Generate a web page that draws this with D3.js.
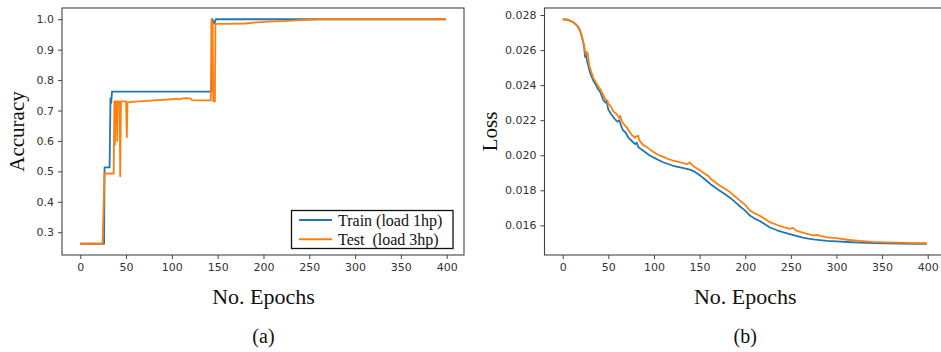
<!DOCTYPE html>
<html>
<head>
<meta charset="utf-8">
<script src="https://cdn.jsdelivr.net/npm/d3@7/dist/d3.min.js"></script>
<style>
  html, body { margin: 0; padding: 0; background: #fff; }
  svg { display: block; }
  .tick text { font-family: "DejaVu Sans", sans-serif; font-size: 11px; fill: #333; }
  .serif { font-family: "Liberation Serif", "Times New Roman", serif; fill: #111; }
</style>
</head>
<body>
<svg id="chart" width="941" height="352"></svg>
<script>
// Accuracy per epoch: [epoch, value] breakpoints (step-like curves)
const accTrain = [
  [0,0.262],[26,0.262],[26.5,0.513],[32,0.513],[33,0.74],[33.8,0.725],[34.6,0.762],
  [143.5,0.762],[144.2,1.0],[146.5,0.986],[148,1.0],[399,1.0]
];
const accTest = [
  [0,0.262],[24.3,0.262],[26.5,0.493],[36.5,0.493],[37.2,0.73],[37.8,0.587],[38.5,0.73],
  [39.8,0.73],[40.4,0.6],[41,0.73],[43,0.73],[43.6,0.484],[44.4,0.73],[50,0.73],[50.8,0.612],
  [51.6,0.727],[60,0.729],[70,0.731],[80,0.733],[90,0.735],[100,0.737],[105,0.739],[108,0.736],
  [110,0.739],[116,0.741],[120,0.74],[122,0.734],[130,0.733],[142.5,0.733],[143.2,1.0],
  [144.4,0.99],[145.2,0.73],[147,0.73],[147.6,0.985],[160,0.985],[180,0.986],[190,0.989],
  [200,0.991],[210,0.993],[220,0.994],[240,0.997],[260,1.0],[399,1.0]
];

// Loss per epoch: [epoch, value]
const lossTrain = [
  [0,0.02775],[5,0.02773],[8,0.02767],[12,0.02757],[15,0.02743],[18,0.02722],[20,0.02695],
  [22,0.02655],[23.5,0.02615],[24.5,0.02561],[25.5,0.0257],[27,0.0253],[30,0.0247],
  [33.6,0.02425],[36,0.02405],[39,0.02375],[41,0.02362],[44.5,0.02315],[47,0.023],
  [48,0.0231],[50,0.0226],[53,0.02235],[57.3,0.02205],[60,0.02192],[62,0.022],
  [64.6,0.0216],[66.4,0.02141],[69,0.0213],[72,0.021],[76,0.0208],[79.2,0.02064],
  [81,0.02072],[83,0.02045],[88.3,0.02026],[95,0.02],[103,0.01978],[110,0.0196],
  [121,0.0194],[130,0.0193],[139.5,0.01918],[145,0.01905],[150.5,0.01885],[155,0.01866],
  [159.6,0.01846],[162,0.01835],[170,0.01805],[176,0.01785],[183.3,0.01758],[190,0.01728],
  [195,0.01705],[200,0.01684],[205,0.01656],[210,0.0164],[216,0.01625],[222,0.01605],
  [227,0.01588],[235,0.01572],[242,0.0156],[249,0.0155],[255,0.01541],[262,0.01532],
  [269,0.01525],[275,0.0152],[282,0.01516],[290,0.01512],[300,0.01509],[312,0.01505],
  [325,0.01502],[340,0.01499],[355,0.01497],[370,0.01496],[385,0.01495],[399,0.01495]
];
const lossTest = [
  [0,0.02776],[5,0.02775],[8,0.02768],[12,0.02758],[15,0.02745],[18,0.02725],[20,0.02698],
  [22,0.0266],[23.5,0.02625],[24.5,0.02595],[25.5,0.02575],[26.5,0.0259],[27.5,0.0258],
  [29,0.02515],[31,0.0248],[33.6,0.0244],[36,0.0242],[39,0.02392],[41,0.02378],[43,0.0236],
  [44.5,0.02342],[47,0.02318],[49,0.02312],[50,0.02292],[52,0.02285],[55.5,0.0225],
  [59,0.02235],[62,0.02212],[63,0.02225],[64.6,0.02195],[68,0.0217],[70,0.0216],
  [73.8,0.0213],[76,0.02115],[79,0.021],[81,0.02108],[82.8,0.02112],[84,0.02085],
  [88.3,0.02058],[92,0.02048],[95,0.02035],[99,0.0202],[103,0.02007],[108,0.01995],
  [112,0.01988],[116,0.01978],[121,0.0197],[127,0.01962],[132,0.01955],[137,0.0195],
  [139.5,0.01959],[141,0.01948],[145,0.01932],[150.5,0.01915],[155,0.01897],[160,0.0188],
  [162,0.01866],[170,0.01835],[176,0.01815],[183.3,0.0179],[190,0.0176],[195,0.01738],
  [200,0.01718],[205,0.01685],[210,0.0167],[216,0.01655],[222,0.01635],[227,0.01618],
  [235,0.01602],[242,0.0159],[249,0.0158],[252,0.01586],[256,0.0157],[262,0.0156],
  [269,0.0155],[275,0.01543],[280,0.01545],[283,0.01538],[290,0.01532],[300,0.01527],
  [312,0.01518],[325,0.01512],[340,0.01506],[355,0.01503],[370,0.01501],[385,0.01499],
  [399,0.01498]
];

const xTicks = [0, 50, 100, 150, 200, 250, 300, 350, 400];
const accTicks = [0.3, 0.4, 0.5, 0.6, 0.7, 0.8, 0.9, 1.0];
const lossTicks = [0.016, 0.018, 0.020, 0.022, 0.024, 0.026, 0.028];
const legendLabels = ["Train (load 1hp)", "Test\u00a0\u00a0(load 3hp)"];
const colors = ["#1f77b4", "#ff7f0e"];

const svg = d3.select("#chart");

// matplotlib-style 5% padding on both axes
function padded(lo, hi) {
  const m = (hi - lo) * 0.05;
  return [lo - m, hi + m];
}

function panel(opts) {
  const { left, right, top, bottom, series, yTicks, yFmt, yLabel, yLabelX, caption, id } = opts;
  const all = series.flat();
  const x = d3.scaleLinear().domain(padded(0, 399)).range([left, right]);
  const y = d3.scaleLinear()
    .domain(padded(d3.min(all, d => d[1]), d3.max(all, d => d[1])))
    .range([bottom, top]);

  const g = svg.append("g");

  g.append("clipPath").attr("id", id)
    .append("rect").attr("x", left).attr("y", top)
    .attr("width", right - left).attr("height", bottom - top);

  const line = d3.line().x(d => x(d[0])).y(d => y(d[1]));
  series.forEach((s, i) => {
    g.append("path").datum(s)
      .attr("clip-path", `url(#${id})`)
      .attr("fill", "none")
      .attr("stroke", colors[i])
      .attr("stroke-width", 1.8)
      .attr("stroke-linejoin", "round")
      .attr("d", line);
  });

  const xAxis = g.append("g").attr("transform", `translate(0,${bottom})`)
    .call(d3.axisBottom(x).tickValues(xTicks).tickFormat(d3.format("d")).tickSize(4).tickPadding(4));
  const yAxis = g.append("g").attr("transform", `translate(${left},0)`)
    .call(d3.axisLeft(y).tickValues(yTicks).tickFormat(d3.format(yFmt)).tickSize(4).tickPadding(4));
  [xAxis, yAxis].forEach(a => {
    a.select(".domain").remove();
    a.selectAll(".tick line").attr("stroke", "#444").attr("stroke-width", 1);
  });

  g.append("rect")
    .attr("x", left).attr("y", top)
    .attr("width", right - left).attr("height", bottom - top)
    .attr("fill", "none").attr("stroke", "#444").attr("stroke-width", 1.1);

  const cx = x(200);
  g.append("text").attr("class", "serif")
    .attr("x", cx).attr("y", 304).attr("text-anchor", "middle")
    .attr("font-size", 22).text("No. Epochs");
  g.append("text").attr("class", "serif")
    .attr("transform", `translate(${yLabelX},${(top + bottom) / 2}) rotate(-90)`)
    .attr("text-anchor", "middle").attr("font-size", 21).text(yLabel);
  g.append("text").attr("class", "serif")
    .attr("x", cx).attr("y", 343).attr("text-anchor", "middle")
    .attr("font-size", 20).text(caption);

  return { x, y, g };
}

const a = panel({
  id: "clipA", left: 62, right: 464, top: 8, bottom: 255,
  series: [accTrain, accTest], yTicks: accTicks, yFmt: ".1f",
  yLabel: "Accuracy", yLabelX: 24, caption: "(a)"
});

panel({
  id: "clipB", left: 544.5, right: 945, top: 8, bottom: 255,
  series: [lossTrain, lossTest], yTicks: lossTicks, yFmt: ".3f",
  yLabel: "Loss", yLabelX: 497, caption: "(b)"
});

// Legend for the accuracy panel
const lg = a.g.append("g");
lg.append("rect").attr("x", 291.5).attr("y", 210.5).attr("width", 161.5).attr("height", 38)
  .attr("fill", "#fff").attr("stroke", "#111").attr("stroke-width", 1.3);
legendLabels.forEach((t, i) => {
  const yy = 220 + i * 19.3;
  lg.append("line").attr("x1", 299).attr("x2", 332).attr("y1", yy).attr("y2", yy)
    .attr("stroke", colors[i]).attr("stroke-width", 2);
  lg.append("text").attr("class", "serif")
    .attr("x", 338).attr("y", yy + 6).attr("font-size", 16).text(t);
});
</script>
</body>
</html>
